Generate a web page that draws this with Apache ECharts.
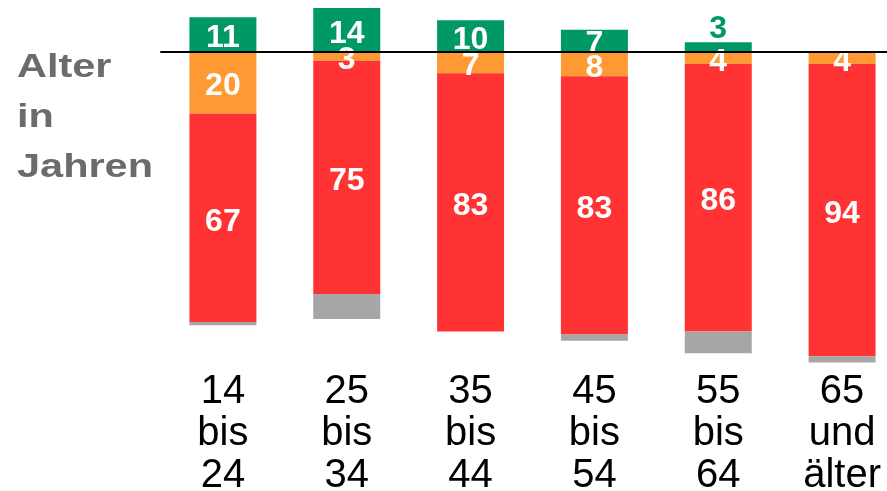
<!DOCTYPE html>
<html>
<head>
<meta charset="utf-8">
<script src="https://cdn.jsdelivr.net/npm/echarts@6/dist/echarts.min.js"></script>
<style>
  html, body { margin: 0; padding: 0; background: #fff; }
  #chart { width: 887px; height: 491px; }
</style>
</head>
<body>
<div id="chart"></div>
<script>
// Altersgruppen
const categories = ['14\nbis\n24', '25\nbis\n34', '35\nbis\n44', '45\nbis\n54', '55\nbis\n64', '65\nund\nälter'];
// Werte in Prozent
const greenValues = [11, 14, 10, 7, 3, 0];
const orangeValues = [20, 3, 7, 8, 4, 4];
const redValues = [67, 75, 83, 83, 86, 94];
const grayValues = [1, 8, 0, 2, 7, 2];

const colors = {
  green: '#009966',
  orange: '#FF9933',
  red: '#FF3333',
  gray: '#A6A6A6'
};
const font = 'Liberation Sans, Arial, sans-serif';

const chart = echarts.init(document.getElementById('chart'));

const valueLabel = {
  show: true,
  position: 'inside',
  offset: [0, 4],
  color: '#fff',
  fontFamily: font,
  fontWeight: 'bold',
  fontSize: 32,
  formatter: (p) => {
    const v = Math.abs(p.value);
    return v === 0 ? '' : String(v);
  }
};

// kleine grüne Werte stehen über dem Balken
const greenData = greenValues.map(v => v > 0 && v <= 3
  ? { value: v, label: { position: 'top', distance: 1, color: colors.green } }
  : v);

const option = {
  animation: false,
  graphic: [{
    type: 'text',
    x: 17,
    y: 43,
    scaleX: 1.22,
    style: {
      text: 'Alter\nin\nJahren',
      fill: '#6b6b6b',
      fontFamily: font,
      fontWeight: 'bold',
      fontSize: 34,
      lineHeight: 50,
      verticalAlign: 'top'
    }
  }],
  grid: {
    left: 161,
    width: 743,
    top: 1.7,
    height: 360.8,
    outerBoundsMode: 'none'
  },
  xAxis: [
    {
      type: 'category',
      data: categories,
      position: 'bottom',
      z: 10,
      axisLine: { onZero: true, lineStyle: { color: '#000', width: 2 } },
      axisTick: { show: false },
      axisLabel: { show: false },
      splitLine: { show: false }
    },
    {
      type: 'category',
      data: categories,
      position: 'bottom',
      axisLine: { show: false, onZero: false },
      axisTick: { show: false },
      splitLine: { show: false },
      axisLabel: {
        margin: 8,
        color: '#000',
        fontFamily: font,
        fontSize: 40,
        lineHeight: 42,
        interval: 0
      }
    }
  ],
  yAxis: {
    type: 'value',
    min: -100,
    max: 16,
    show: false
  },
  series: [
    {
      name: 'grün',
      type: 'bar',
      stack: 'total',
      barWidth: 67,
      data: greenData,
      itemStyle: { color: colors.green },
      label: valueLabel
    },
    {
      name: 'orange',
      type: 'bar',
      stack: 'total',
      barWidth: 67,
      data: orangeValues.map(v => -v),
      itemStyle: { color: colors.orange },
      label: valueLabel
    },
    {
      name: 'rot',
      type: 'bar',
      stack: 'total',
      barWidth: 67,
      data: redValues.map(v => -v),
      itemStyle: { color: colors.red },
      label: valueLabel
    },
    {
      name: 'grau',
      type: 'bar',
      stack: 'total',
      barWidth: 67,
      data: grayValues.map(v => -v),
      itemStyle: { color: colors.gray },
      label: { show: false }
    }
  ]
};

chart.setOption(option);
</script>
</body>
</html>
